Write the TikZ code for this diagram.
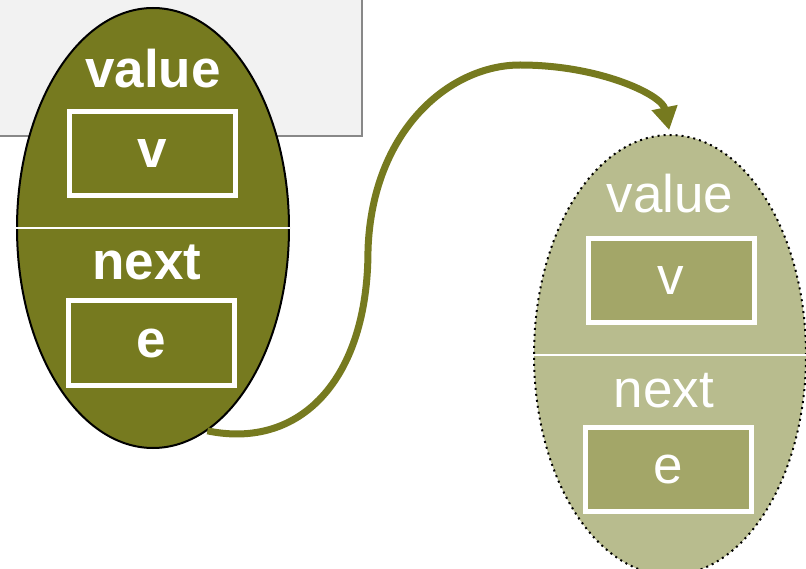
\documentclass[tikz,border=0pt]{standalone}
\usepackage{fontspec}
\setmainfont{Liberation Sans}
\usepackage{tikz}
\usetikzlibrary{shapes.geometric,arrows.meta}

\definecolor{olivedark}{RGB}{118,122,31}
\definecolor{olivelight}{RGB}{184,188,142}
\definecolor{olivemid}{RGB}{163,166,104}
\definecolor{panelgray}{RGB}{242,242,242}
\definecolor{panelline}{RGB}{136,136,136}

\begin{document}
\begin{tikzpicture}[x=1pt, y=-1pt,
  cell/.style={ellipse, minimum width=272pt, minimum height=440pt, inner sep=0pt, draw=black, line width=2pt},
  field/.style={rectangle, draw=white, line width=5pt, minimum width=166pt, minimum height=84pt, inner sep=0pt, text=white},
  lbl/.style={anchor=base, text=white, inner sep=0pt},
  big/.style={font=\fontsize{53}{60}\selectfont},
  bigbold/.style={font=\bfseries\fontsize{53}{60}\selectfont}]
\useasboundingbox (0,0) rectangle (806,569);

\fill[panelgray, draw=panelline, line width=2pt] (-5,-5) rectangle (362,136);

% first cell
\node[cell, fill=olivedark] at (153,228) (c1) {};
\draw[white, line width=2pt] (c1.west) -- (c1.east);
\node[lbl, bigbold] at (153,88) (val1) {value};
\node[field, bigbold, fill=olivedark] at (152,154) (v1) {v};
\node[lbl, bigbold] at (147,280) (nxt1) {next};
\node[field, bigbold, fill=olivedark] at (151,343) (e1) {e};

% second cell
\node[cell, fill=olivelight, dash pattern=on 2pt off 4pt] at (670,355) (c2) {};
\draw[white, line width=2pt] (c2.west) -- (c2.east);
\node[lbl, big] at (670,213) (val2) {value};
\node[field, big, fill=olivemid] at (671,281) (v2) {v};
\node[lbl, big] at (664,407) (nxt2) {next};
\node[field, big, fill=olivemid] at (668,469) (e2) {e};

% link
\draw[olivedark, line width=7pt, -{Triangle[width=25pt,length=23pt]}, shorten >=4pt]
  (c1.-75) .. controls (300,450) and (368,380) .. (368,250)
  .. controls (372,130) and (450,65) .. (520,65)
  .. controls (600,65) and (662,95) .. (c2.north);
\end{tikzpicture}
\end{document}
